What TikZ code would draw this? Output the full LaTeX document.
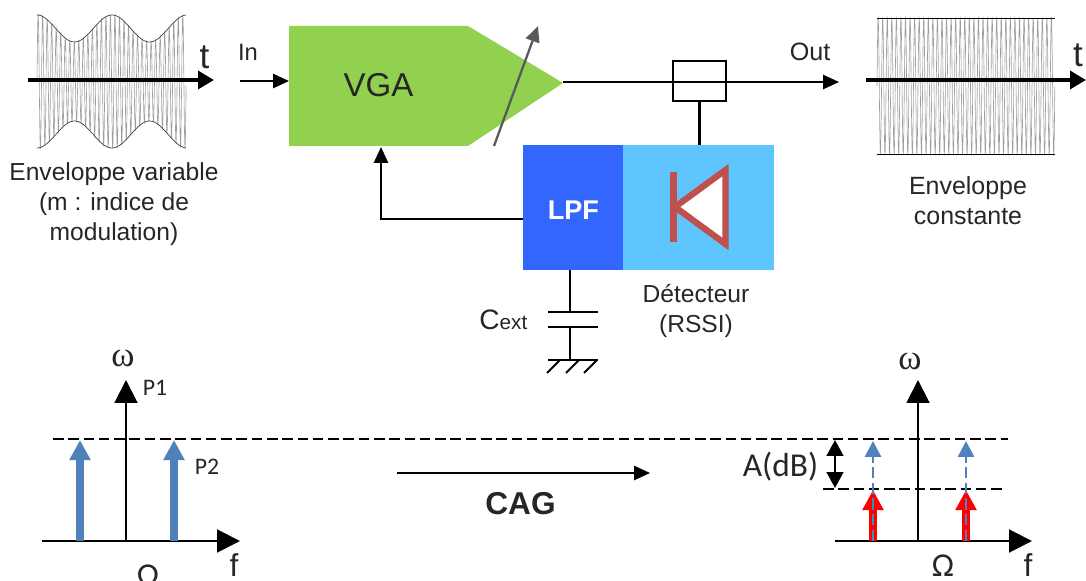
\documentclass[tikz,border=0pt]{standalone}
\usepackage{fontspec}
\setmainfont{Liberation Sans}
\newfontfamily\calibrifont{Carlito}
\newfontfamily\symbfont{Liberation Serif}
\usepackage{tikz}
\usetikzlibrary{arrows.meta,positioning}
\definecolor{vgagreen}{HTML}{92D050}
\definecolor{lpfblue}{HTML}{3366FF}
\definecolor{detblue}{HTML}{5FC5FF}
\definecolor{diodered}{HTML}{C0504D}
\definecolor{toneblue}{HTML}{4F81BD}
\tikzset{
	wire/.style={line width=1.15pt},
	sigarrow/.style={line width=2.6pt,-{Triangle[length=9pt,width=10pt]}},
	flow/.style={wire,-{Triangle[length=9pt,width=8pt]}},
	axis/.style={wire,-{Triangle[length=13pt,width=13pt]}},
	level/.style={line width=1.5pt,dash pattern=on 6pt off 2.7pt},
	tone/.style={line width=4pt,-{Triangle[length=11.5pt,width=11.5pt,sep=0pt]}},
	txt/.style={font=\fontsize{14}{16}\selectfont,text=black!85,align=center,inner sep=0pt},
	small/.style={font=\calibrifont\fontsize{13.5}{15}\selectfont,text=black!85,inner sep=0pt},
	carrier/.style={line width=0.35pt,black!38},
}
\begin{document}
\begin{tikzpicture}[x=0.02cm,y=-0.02cm]
	\clip (0,0) rectangle (1086,581);
	% signal with varying envelope
	\draw[carrier,domain=0:33,samples=800,smooth,variable=\t]
		plot ({37+\t*4.52},{81.5-(53+13.5*cos(4.8*\t*4.52))*sin(360*\t)});
	\draw[line width=0.4pt,black!75,domain=0:149,samples=80,smooth,variable=\s]
		plot ({37+\s},{81.5-(53+13.5*cos(4.8*\s))});
	\draw[line width=0.4pt,black!75,domain=0:149,samples=80,smooth,variable=\s]
		plot ({37+\s},{81.5+(53+13.5*cos(4.8*\s))});
	\coordinate (inA) at (28,80);
	\coordinate (inB) at (214,80);
	\draw[sigarrow] (inA) -- (inB);
	\node[txt,font=\fontsize{20}{22}\selectfont] (inT) at (204.5,57) {t};
	\node[txt] (inLabel) at (114,204) {Enveloppe variable\\[1pt](m : indice de\\[1pt]modulation)};
	% signal with constant envelope
	\draw[carrier,domain=0:39,samples=900,smooth,variable=\t]
		plot ({877+\t*4.56},{86-68*sin(360*\t)});
	\coordinate (topA) at (877,18);
	\coordinate (topB) at (1055,18);
	\coordinate (botA) at (877,154);
	\coordinate (botB) at (1055,154);
	\draw[line width=0.45pt] (topA) -- (topB);
	\draw[line width=0.45pt] (botA) -- (botB);
	\coordinate (outA) at (866,80);
	\coordinate (outB) at (1086,80);
	\draw[sigarrow] (outA) -- (outB);
	\node[txt,font=\fontsize{20}{22}\selectfont] (outT) at (1078,55) {t};
	\node[txt,font=\fontsize{14.2}{16}\selectfont] (outLabel) at (968,201) {Enveloppe\\[1pt]constante};
	% amplifier
	\coordinate (vgaOut) at (563,83);
	\fill[vgagreen] (289,26) -- (468,26) -- (vgaOut) -- (468,146) -- (289,146) -- cycle;
	\node[txt,font=\fontsize{18.8}{20}\selectfont] (vga) at (378.5,85) {VGA};
	\coordinate (gainA) at (494,146);
	\coordinate (gainB) at (538,26);
	\draw[line width=1.3pt,black!65,-{Triangle[length=9pt,width=8pt]}] (gainA) -- (gainB);
	\coordinate (in) at (240,81);
	\coordinate (vgaIn) at (289,81);
	\draw[flow] (in) -- (vgaIn);
	\node[txt,font=\fontsize{13.5}{15}\selectfont] (inName) at (248,52) {In};
	\coordinate (out) at (839,82);
	\draw[flow] (vgaOut |- out) -- (out);
	\node[txt,font=\fontsize{14.3}{16}\selectfont] (outName) at (810,52) {Out};
	\node[draw,wire,minimum width=30pt,minimum height=22.8pt,inner sep=0pt] (coupler) at (699.5,81) {};
	% detector and filter
	\node[fill=lpfblue,minimum width=56.9pt,minimum height=71.1pt,inner sep=0pt,anchor=north west,
		text=white,font=\bfseries\fontsize{15.4}{17}\selectfont] (lpf) at (523,145) {\raisebox{-13pt}{LPF}};
	\node[fill=detblue,minimum width=85.9pt,minimum height=71.1pt,inner sep=0pt,anchor=north west] (det) at (623,145) {};
	\draw[diodered,line width=3.6pt,miter limit=10,fill=white] (725.5,170) -- (725.5,244) -- (675,207) -- cycle;
	\draw[diodered,line width=3.9pt] (673.5,172) -- (673.5,242);
	\draw[wire] (coupler.south) -- (coupler.south |- det.north);
	\coordinate (fbA) at (523,219);
	\coordinate (fbB) at (381,219);
	\coordinate (vgaCtl) at (381,147);
	\draw[flow] (fbA) -- (fbB) -- (vgaCtl);
	\node[txt,font=\fontsize{14}{16}\selectfont] (detName) at (696,311) {Détecteur\\[1pt](RSSI)};
	% capacitor to ground
	\coordinate (capTop) at (570,312);
	\coordinate (capBot) at (570,327);
	\coordinate (gnd) at (570,360);
	\draw[wire] (570,270) -- (capTop);
	\draw[wire] (capBot) -- (gnd);
	\draw[wire] (548,312) -- (598,312);
	\draw[wire] (548,327) -- (598,327);
	\draw[wire] (548,360) -- (598,360);
	\foreach \hx in {560,579,597}
		\draw[wire] (\hx,360) -- (\hx-13,373);
	\node[txt,anchor=base west,font=\fontsize{16}{18}\selectfont] (cext) at (479,329) {C\fontsize{11.8}{13}\selectfont ext};
	% spectrum before
	\coordinate (fA) at (42,541);
	\coordinate (fB) at (240,541);
	\coordinate (wA) at (126,541);
	\coordinate (wB) at (126,380);
	\draw[axis] (fA) -- (fB);
	\draw[axis] (wA) -- (wB);
	\node[txt,font=\symbfont\fontsize{20}{22}\selectfont] (omegaA) at (123,358) {ω};
	\node[small] (pA) at (155,388) {P1};
	\node[small] (pB) at (207,467) {P2};
	\node[txt,font=\fontsize{18}{20}\selectfont] (fLabelA) at (234,565) {f};
	\node[txt,font=\calibrifont\fontsize{19}{21}\selectfont] (bigOmA) at (148,576) {Ω};
	\foreach \tx in {80,174}
		\draw[tone,toneblue] (\tx,541) -- (\tx,440);
	% levels
	\coordinate (levA) at (53,439);
	\coordinate (levB) at (1008,439);
	\coordinate (lowA) at (823,489);
	\coordinate (lowB) at (1002,489);
	\draw[level] (levA) -- (levB);
	\draw[level] (lowA) -- (lowB);
	% gain control arrow
	\coordinate (cagA) at (397,473);
	\coordinate (cagB) at (650,473);
	\draw[flow] (cagA) -- (cagB);
	\node[txt,font=\bfseries\fontsize{18}{20}\selectfont] (cag) at (520.5,504) {CAG};
	% spectrum after
	\coordinate (gA) at (835,541);
	\coordinate (gB) at (1032,541);
	\coordinate (hA) at (918,541);
	\coordinate (hB) at (918,380);
	\draw[axis] (gA) -- (gB);
	\draw[axis] (hA) -- (hB);
	\node[txt,font=\symbfont\fontsize{20}{22}\selectfont] (omegaB) at (910,361) {ω};
	\node[txt,font=\fontsize{18}{20}\selectfont] (fLabelB) at (1028,565) {f};
	\node[txt,font=\calibrifont\fontsize{19}{21}\selectfont] (bigOmB) at (943,566) {Ω};
	\foreach \tx in {873,966} {
		\draw[tone,red] (\tx,541) -- (\tx,490);
		\draw[line width=1.6pt,toneblue,dash pattern=on 6.5pt off 2.4pt,
			-{Triangle[length=9pt,width=9pt,sep=0pt]}] (\tx,541) -- (\tx,441);
	}
	\coordinate (dbA) at (835,440);
	\coordinate (dbB) at (835,488);
	\draw[wire,{Triangle[length=9pt,width=9.5pt]}-{Triangle[length=9pt,width=9.5pt]}] (dbA) -- (dbB);
	\node[txt,font=\calibrifont\fontsize{19}{21}\selectfont] (gainLabel) at (780.5,467) {A(dB)};
\end{tikzpicture}
\end{document}
